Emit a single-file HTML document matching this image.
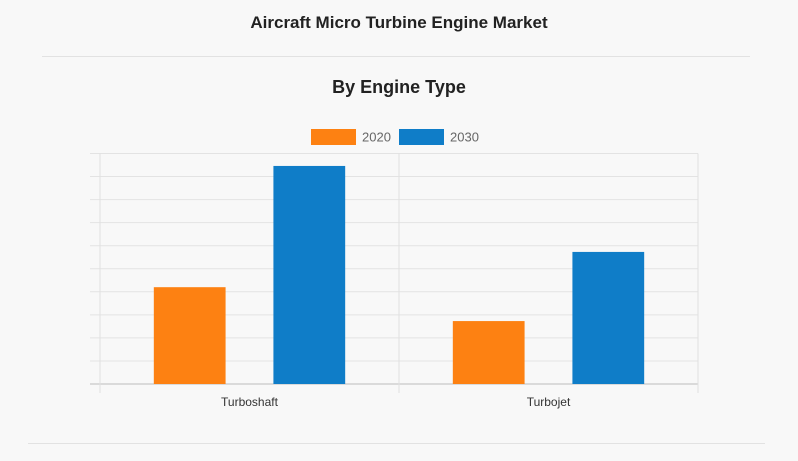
<!DOCTYPE html>
<html><head><meta charset="utf-8"><style>
body{margin:0;background:#f8f8f8;font-family:"Liberation Sans",sans-serif;}
#wrap{position:relative;width:798px;height:461px;overflow:hidden;background:#f8f8f8}
.t{position:absolute;left:0;width:798px;text-align:center;font-weight:bold;color:#222}
</style></head><body>
<div id="wrap">
<div class="t" style="top:13px;font-size:17px">Aircraft Micro Turbine Engine Market</div>
<div style="position:absolute;left:42px;top:56px;width:708px;height:1px;background:#e2e2e2"></div>
<div class="t" style="top:77px;font-size:18px">By Engine Type</div>
<div style="position:absolute;left:28px;top:443px;width:737px;height:1px;background:#e2e2e2"></div>
<svg id="chart" width="798" height="461" style="position:absolute;left:0;top:0"></svg>
</div>
<script>
const categories=["Turboshaft","Turbojet"];
const seriesNames=["2020","2030"];
const values2020=[4.2,2.73];
const values2030=[9.46,5.73];
const yTicks=[0,1,2,3,4,5,6,7,8,9,10];
const colors=["#fd8112","#0f7dc8"];
const NS="http://www.w3.org/2000/svg";
const svg=document.getElementById('chart');
const L=100,R=698,T=153.5,B=384,yMax=10;
const y=v=>B-(v/yMax)*(B-T);
const cw=(R-L)/categories.length;
const x=i=>L+i*cw;
function mk(t,a){const e=document.createElementNS(NS,t);for(const k in a)e.setAttribute(k,a[k]);svg.appendChild(e);return e;}
yTicks.forEach(t=>{
 const l=mk('line',{x1:90,x2:R,y1:y(t),y2:y(t),stroke:t===0?'#bbb':'#e3e3e3','stroke-width':1});
 
 
});
for(let i=0;i<=categories.length;i++){
 const l=mk('line',{x1:x(i),x2:x(i),y1:T,y2:393,stroke:'#e0e0e0','stroke-width':1});
 
 
}
const series=[values2020,values2030];
const offs=[54,174],bw=72;
categories.forEach((c,i)=>{
 series.forEach((s,j)=>{
  const r=mk('rect',{x:x(i)+offs[j]*cw/300,y:y(s[i]),width:bw*cw/300,height:B-y(s[i]),fill:colors[j]});
  
  
 });
 const t=mk('text',{x:x(i)+cw/2,y:406,'text-anchor':'middle','font-size':12,fill:'#333','font-family':'Liberation Sans, sans-serif'});
 t.textContent=c;
 
 
});
const lx=[311,399];
seriesNames.forEach((n,j)=>{
 const r=mk('rect',{x:lx[j],y:129,width:45,height:16,fill:colors[j]});
 
 
 const t=mk('text',{x:lx[j]+51,y:141.5,'font-size':13,fill:'#666','font-family':'Liberation Sans, sans-serif'});
 t.textContent=n;
 
 
});
</script>
</body></html>
